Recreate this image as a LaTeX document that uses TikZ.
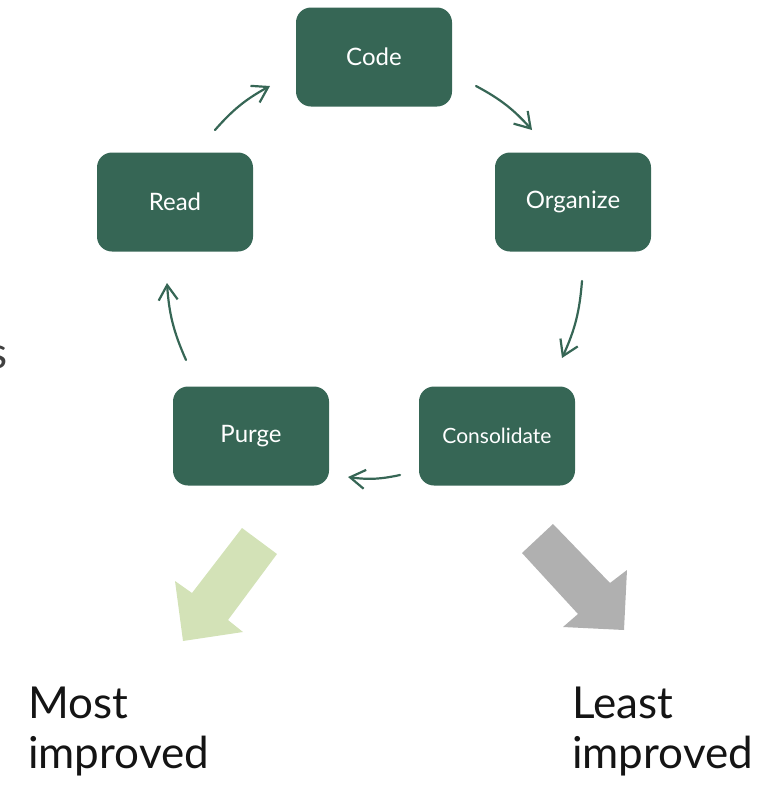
\documentclass[tikz,border=0pt]{standalone}
\usepackage{fontspec}
\setmainfont{Lato}
\usetikzlibrary{arrows.meta}
\definecolor{boxgreen}{HTML}{366655}
\definecolor{palegreen}{HTML}{D3E2B7}
\definecolor{midgray}{HTML}{B0B0B0}
\definecolor{inktext}{HTML}{141414}
\tikzset{
  stage/.style={draw=none, fill=boxgreen, rounded corners=15pt,
    minimum width=156pt, minimum height=99pt, text=white,
    font=\fontsize{24}{28}\selectfont},
  flow/.style={draw=boxgreen, line width=2.2pt, line cap=round,
    -{Straight Barb[length=15pt,width=19pt,line width=2.2pt]}},
  caption/.style={anchor=base west, text=inktext, inner sep=0pt,
    font=\fontsize{44}{50}\selectfont}
}
\begin{document}
\begin{tikzpicture}[x=1pt,y=-1pt]
\useasboundingbox (0,0) rectangle (782,788);

% cycle stages
\node[stage] (code) at (374,57)  {Code};
\node[stage] (read) at (175,202) {Read};
\node[stage] (org)  at (573,202) {Organize};
\node[stage] (purge) at (251,436) {Purge};
\node[stage, font=\fontsize{21}{25}\selectfont] (cons) at (497,436) {Consolidate};

% end points of the curved connectors between stages
\coordinate (rc1) at (215,130); \coordinate (rc2) at (270,86);
\coordinate (co1) at (476,86);  \coordinate (co2) at (532,130);
\coordinate (oc1) at (582,281); \coordinate (oc2) at (562,358);
\coordinate (cp1) at (400,475); \coordinate (cp2) at (348,477);
\coordinate (pr1) at (186,360); \coordinate (pr2) at (167,283);

\draw[flow] (rc1) to[bend left=10] (rc2);
\draw[flow] (co1) to[bend left=10] (co2);
\draw[flow] (oc1) to[bend left=10] (oc2);
\draw[flow] (cp1) to[bend left=10] (cp2);
\draw[flow] (pr1) to[bend left=10] (pr2);

% block arrows
\fill[palegreen] (242,528) -- (277,554) -- (228,620) -- (243,632)
  -- (183,641) -- (175,581) -- (192,593) -- cycle;
\fill[midgray] (553,524) -- (610,583) -- (627,570) -- (624,630)
  -- (563,627) -- (578,614) -- (522,553) -- cycle;

% captions
\node[caption] (most) at (28,718) {Most};
\node[caption] (mostimp) at (28,768) {improved};
\node[caption] (least) at (572,718) {Least};
\node[caption] (leastimp) at (572,768) {improved};
\node[caption, anchor=base east, text=black!75] (edge) at (8,368) {s};
\end{tikzpicture}
\end{document}
